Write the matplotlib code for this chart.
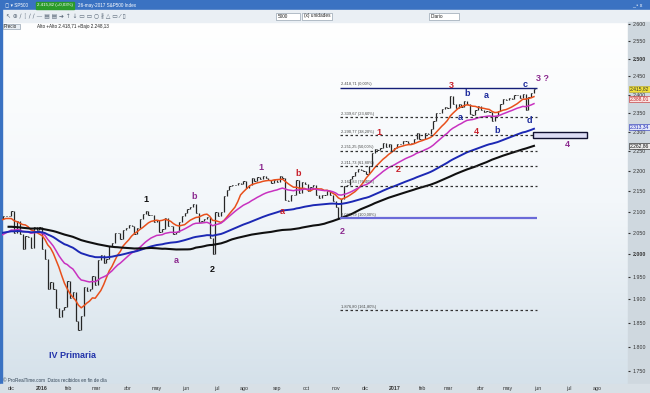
import numpy as np
import pandas as pd
import matplotlib
matplotlib.use('Agg')
import matplotlib.pyplot as plt
from matplotlib.patches import Rectangle
from matplotlib.colors import LinearSegmentedColormap

plt.rcParams['font.family'] = ['Liberation Sans', 'DejaVu Sans']

# S&P500 closes, one every second trading day (index 0 = 1-dic-2015)
# 2015 starts at index -200: feb..nov are only there to feed the averages
closes_2015 = [
    2100, 2097, 2109, 2113, 2105,                                  # feb
    2108, 2101, 2079, 2040, 2053, 2074, 2089, 2104, 2061, 2061, 2068,  # mar
    2059, 2076, 2092, 2096, 2106, 2081, 2097, 2112, 2108, 2106,    # abr
    2108, 2089, 2080, 2106, 2099, 2122, 2125, 2126, 2104, 2120,    # may
    2111, 2114, 2081, 2105, 2095, 2097, 2110, 2122, 2102, 2057, 2070,  # jun
    2077, 2068, 2046, 2077, 2108, 2126, 2119, 2102, 2068, 2109, 2104,  # jul
    2098, 2100, 2078, 2084, 2083, 2102, 2079, 1971, 1868, 1988, 1972,  # ago
    1948, 1921, 1943, 1961, 1979, 1990, 1966, 1939, 1931, 1884,    # sep
    1923, 1987, 1995, 2015, 2004, 2023, 2033, 2018, 2075, 2066, 2089,  # oct
    2104, 2102, 2099, 2081, 2045, 2053, 2083, 2089, 2089, 2090,    # nov
    2102, 2050, 2077, 2047, 2012, 2043, 2041, 2015, 2064, 2057, 2063,  # dic
]
closes_2016 = [
    2012, 1990, 1922, 1938, 1922, 1881, 1862, 1878, 1883, 1940,        # ene
    1903, 1916, 1853, 1835, 1865, 1927, 1918, 1922, 1952, 1932,        # feb
    1987, 1999, 1980, 1989, 2019, 2027, 2050, 2049, 2036, 2056, 2060,  # mar
    2067, 2066, 2048, 2062, 2083, 2094, 2102, 2092, 2092, 2075,        # abr
    2081, 2052, 2058, 2085, 2065, 2066, 2048, 2052, 2076, 2090, 2097,  # may
    2105, 2110, 2119, 2096, 2075, 2077, 2083, 2086, 2038, 2001, 2099,  # jun
    2089, 2098, 2137, 2152, 2162, 2164, 2165, 2169, 2167, 2174,        # jul
    2157, 2164, 2181, 2175, 2184, 2179, 2187, 2182, 2176, 2169, 2176,  # ago
    2171, 2186, 2181, 2128, 2125, 2139, 2140, 2177, 2146, 2171, 2168,  # sep
    2150, 2160, 2164, 2140, 2133, 2140, 2141, 2151, 2139, 2126,        # oct
    2111, 2085, 2131, 2163, 2164, 2180, 2188, 2198, 2205, 2202, 2199,  # nov
    2192, 2212, 2246, 2256, 2253, 2258, 2270, 2261, 2268, 2249,        # dic
]
closes_2017 = [
    2258, 2269, 2269, 2275, 2275, 2272, 2271, 2281, 2297, 2281,        # ene
    2280, 2297, 2293, 2307, 2328, 2350, 2351, 2362, 2367, 2364,        # feb
    2396, 2375, 2363, 2373, 2365, 2381, 2374, 2348, 2344, 2359, 2369,  # mar
    2359, 2353, 2355, 2353, 2329, 2342, 2355, 2374, 2387, 2384,        # abr
    2391, 2389, 2399, 2400, 2391, 2401, 2357, 2394, 2404, 2416,        # may
]
first_index = -200
step = 2

# moving averages, lengths in sessions: (kind, sessions)
ma_specs = [('sma', 20), ('ema', 50), ('ema', 150), ('sma', 200)]
ma_colors = ['#e8501c', '#c832c0', '#1c28b4', '#101010']
ma_widths = [1.1, 1.1, 1.4, 1.5]

# fibonacci retracement
fib_prices = [2418.71, 2339.67, 2290.77, 2251.25, 2211.73, 2162.83, 2083.79, 1876.80]
fib_pcts = ['0,00', '23,60', '38,20', '50,00', '61,80', '76,40', '100,00', '161,80']
fib_start, fib_end = 235, 376

# wave labels: text, index, price, colour
wave_labels = [
    ('IV Primaria', 44, 1783, '#2233aa'),
    ('1', 96, 2130, '#111111'), ('a', 118, 1985, '#8b2a8f'),
    ('b', 131, 2137, '#8b2a8f'), ('2', 144, 1965, '#111111'),
    ('1', 179, 2208, '#8b2a8f'), ('a', 194, 2100, '#c8202a'),
    ('b', 205, 2193, '#c8202a'), ('2', 237, 2053, '#8b2a8f'),
    ('1', 263, 2298, '#c8202a'), ('2', 277, 2203, '#c8202a'),
    ('3', 315, 2424, '#c8202a'), ('a', 321, 2337, '#1c2a9c'),
    ('b', 326, 2402, '#1c2a9c'), ('4', 333, 2300, '#c8202a'),
    ('a', 340, 2397, '#1c2a9c'), ('b', 348, 2303, '#1c2a9c'),
    ('c', 368, 2427, '#1c2a9c'), ('d', 371, 2329, '#1c2a9c'),
    ('3 ?', 380, 2443, '#8b2a8f'), ('4', 398, 2267, '#8b2a8f'),
]

month_pos = [0, 22, 41, 61, 83, 104, 125, 147, 167, 190, 211, 232, 253,
             274, 294, 313, 336, 355, 377, 399, 419]
month_names = ['dic', '2016', 'feb', 'mar', 'abr', 'may', 'jun', 'jul', 'ago',
               'sep', 'oct', 'nov', 'dic', '2017', 'feb', 'mar', 'abr', 'may',
               'jun', 'jul', 'ago']

price_ticks = list(range(1750, 2601, 50))
side_values = ['2.415,82', '2.388,01', '2.313,34', '2.262,86']
side_prices = [2415.82, 2388.01, 2313.34, 2262.86]
side_styles = [('#f2e23a', '#333333', '#b0a020'), ('#fbe3e3', '#c02020', '#c02020'),
               ('#e4e8fa', '#1c28b4', '#1c28b4'), ('#ececec', '#111111', '#111111')]


def es(v):
    return f'{v:,.2f}'.replace(',', '#').replace('.', ',').replace('#', '.')


closes = pd.Series(closes_2015 + closes_2016 + closes_2017, dtype=float)
idx = first_index + step * np.arange(len(closes))
prev = closes.shift(1).fillna(closes)
lo = np.minimum(closes, prev)
hi = np.maximum(closes, prev)

fig = plt.figure(figsize=(6.5, 3.93), dpi=100)
fig.patch.set_facecolor('#d3dce3')

# window decoration (pixel coords)
deco = fig.add_axes([0, 0, 1, 1])
deco.set_xlim(0, 650)
deco.set_ylim(393, 0)
deco.axis('off')
grad = LinearSegmentedColormap.from_list('bg', ['#ffffff', '#f3f7fa', '#d5e1ea'])
deco.imshow(np.linspace(0, 1, 256).reshape(-1, 1), extent=(2, 628, 384, 22),
            aspect='auto', cmap=grad, zorder=0)
deco.add_patch(Rectangle((0, 0), 650, 10, color='#3a72c2', zorder=1))
deco.add_patch(Rectangle((0, 10), 650, 12, color='#eaeff4', zorder=1))
deco.add_patch(Rectangle((0, 0), 2, 393, color='#3a72c2', zorder=1))
deco.add_patch(Rectangle((628, 22), 22, 362, color='#cfd8df', zorder=1))
deco.add_patch(Rectangle((0, 384), 650, 9, color='#d8e0e6', zorder=1))
deco.add_patch(Rectangle((36, 1.5), 38, 7, color='#2a9a2a', zorder=2))
deco.text(5, 5, '▢ ▾ SP500', fontsize=3.3, color='white', va='center', zorder=3)
deco.text(37, 5, '2.415,82 (+0,03%)', fontsize=3.2, color='white', va='center', zorder=3)
deco.text(78, 5, '26-may-2017 S&P500 Index', fontsize=3.3, color='white',
          va='center', zorder=3)
deco.text(642, 5, '_ ▫ x', fontsize=3.8, color='white', va='center', ha='right', zorder=3)
for x0, w, txt in [(276, 24, '5000'), (302, 30, '(x) unidades'), (429, 30, 'Diario')]:
    deco.add_patch(Rectangle((x0, 12.5), w, 7, facecolor='white', edgecolor='#8090a0',
                             lw=0.4, zorder=2))
    deco.text(x0 + 2, 16, txt, fontsize=3.4, color='#222222', va='center', zorder=3)
deco.text(6, 16, '↖ ⊕ ∕ ┆ ∕ ∕ — ▤ ▤ ➔ ↑ ↓ ▭ ▭ ○ ∦ △ ▭ ⁄ ▯', fontsize=4.2,
          color='#5a6878', va='center', zorder=3, family=['DejaVu Sans'])
deco.add_patch(Rectangle((2.5, 23.5), 17, 5.5, facecolor='#e8eef4', edgecolor='#8090a0',
                         lw=0.4, zorder=2))
deco.text(3.5, 26.3, 'Precio', fontsize=3.3, color='#222222', va='center', zorder=3)
deco.text(37, 26.3, 'Alto +Alto 2.418,71 +Bajo 2.248,13', fontsize=3.3, color='#222222',
          va='center', zorder=3)
deco.text(3, 381, '© ProRealTime.com  Datos recibidos en fin de día', fontsize=3.3,
          color='#334455', va='center', zorder=3)

ax = fig.add_axes([2 / 650, 9 / 393, 626 / 650, 362 / 393])
ax.set_facecolor('none')
ax.set_zorder(2)
ax.set_yscale('log')
ax.set_xlim(-6.7, 441.3)
ax.set_ylim(1725, 2607)

vis = idx >= -8
ax.vlines(idx[vis], lo[vis], hi[vis], color='#262626', lw=0.9, zorder=3)
ax.hlines(closes[vis], idx[vis], idx[vis] + 0.9, color='#262626', lw=0.7, zorder=3)

for (kind, n), c, lw in zip(ma_specs, ma_colors, ma_widths):
    if kind == 'sma':
        ma = closes.rolling(n // step).mean()
    else:
        ma = closes.ewm(span=n // step, adjust=False).mean()
    ax.plot(idx[vis], ma[vis], color=c, lw=lw, zorder=4)

for i, (p, pct) in enumerate(zip(fib_prices, fib_pcts)):
    if i == 0:
        ax.hlines(p, fib_start, fib_end, color='#141e78', lw=1.0, zorder=5)
    elif pct == '100,00':
        ax.hlines(p, fib_start, fib_end, color='#6a6ad8', lw=1.6, zorder=5)
    else:
        ax.hlines(p, fib_start, fib_end, color='#333333', lw=0.9,
                  linestyles=(0, (2, 2)), zorder=5)
    ax.text(fib_start + 1, p * 1.0015, f'{es(p)} ({pct}%)', fontsize=2.9,
            color='#444444', va='bottom', ha='left', zorder=6)

ax.add_patch(Rectangle((373.4, 2285), 38.7, 15, facecolor='#dcdcf4',
                       edgecolor='#101030', lw=1.0, zorder=6))

for txt, xi, p, c in wave_labels:
    ax.text(xi, p, txt, color=c, fontsize=6.5, fontweight='bold', ha='center',
            va='center', zorder=7)

ax.yaxis.tick_right()
ax.set_yticks(price_ticks, [es(t)[:-3] for t in price_ticks])
ax.yaxis.set_minor_locator(matplotlib.ticker.NullLocator())
ax.tick_params(axis='y', labelsize=3.8, length=1.5, pad=2, colors='#333333')
for lbl in ax.get_yticklabels():
    if lbl.get_text() in ('2.000', '2.500'):
        lbl.set_fontweight('bold')
ax.set_xticks(month_pos, month_names)
ax.tick_params(axis='x', labelsize=3.8, length=0, pad=1.5, colors='#333333')
for lbl in ax.get_xticklabels():
    if lbl.get_text() in ('2016', '2017'):
        lbl.set_fontweight('bold')
for s in ax.spines.values():
    s.set_visible(False)

for txt, p, (bg, fg, ec) in zip(side_values, side_prices, side_styles):
    ax.annotate(txt, xy=(1, p), xycoords=('axes fraction', 'data'), xytext=(1.5, 0),
                textcoords='offset points', fontsize=3.6, color=fg, va='center',
                ha='left', annotation_clip=False, zorder=10,
                bbox=dict(boxstyle='square,pad=0.15', fc=bg, ec=ec, lw=0.4))

fig.savefig('out.png', dpi=100, facecolor=fig.get_facecolor())
